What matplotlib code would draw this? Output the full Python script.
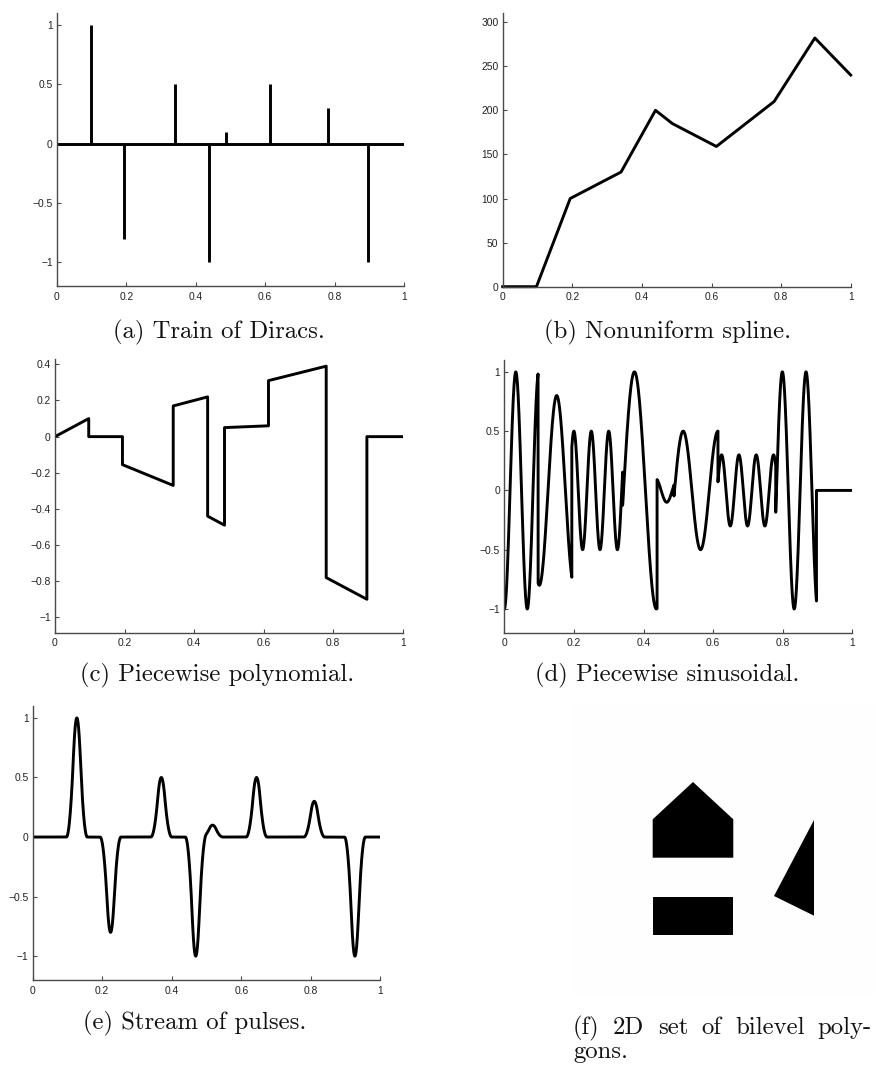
import numpy as np
import matplotlib
matplotlib.use("Agg")
import matplotlib.pyplot as plt
from matplotlib.patches import Polygon
from matplotlib.ticker import FuncFormatter

# Innovation locations shared by all 1D signals
knots = [0.097, 0.194, 0.34, 0.439, 0.4875, 0.614, 0.78, 0.897]
dirac_amps = [1.0, -0.8, 0.5, -1.0, 0.1, 0.5, 0.3, -1.0]

# Nonuniform linear spline (values at knots, plus the end points)
spline_x = [0.0, 0.097, 0.194, 0.34, 0.439, 0.4875, 0.614, 0.78, 0.897, 1.0]
spline_y = [0, 0, 100, 130, 200, 185, 159, 210, 282, 240]

# Piecewise polynomial: start / end value of each linear piece
piece_breaks = [0.0, 0.097, 0.194, 0.34, 0.439, 0.4875, 0.614, 0.78, 0.897, 1.0]
poly_start = [0.0, 0.0, -0.155, 0.17, -0.44, 0.05, 0.31, -0.78, 0.0]
poly_end = [0.1, 0.0, -0.27, 0.22, -0.49, 0.06, 0.39, -0.90, 0.0]

# Piecewise sinusoid: amplitude, period and peak location of each piece
sin_amp = [-1.0, -0.8, 0.5, 1.0, -0.1, 0.5, 0.3, 1.0, 0.0]
sin_period = [0.066, 0.1, 0.05, 0.126, 0.064, 0.1, 0.0497, 0.068, 1.0]
sin_peak = [0.0, 0.1006, 0.2, 0.374, 0.4667, 0.514, 0.6245, 0.799, 0.0]

# Stream of pulses: each pulse starts at a knot and spans this width
pulse_width = 0.06

# Bilevel polygons (image coordinates in [0, 1])
house = [(0.2663, 0.4702), (0.5323, 0.4702), (0.5323, 0.6017),
         (0.3993, 0.7295), (0.2663, 0.6017)]
block = [(0.2663, 0.2055), (0.5323, 0.2055), (0.5323, 0.3366),
         (0.2663, 0.3366)]
wedge = [(0.7987, 0.5993), (0.7987, 0.2716), (0.6667, 0.3390)]

captions = ["(a) Train of Diracs.", "(b) Nonuniform spline.",
            "(c) Piecewise polynomial.", "(d) Piecewise sinusoidal.",
            "(e) Stream of pulses."]
caption_f_words = ["(f)", "2D", "set", "of", "bilevel", "poly-"]
caption_f_tail = "gons."

W, H = 876, 1066
fig = plt.figure(figsize=(W / 100, H / 100), dpi=100)
fig.patch.set_facecolor("white")

TICK_FONT = ["Liberation Sans", "DejaVu Sans"]
CAP_FONT = ["cmr10", "DejaVu Serif"]
CAP_SIZE = 17.8
AX_COL = "#4a4a4a"
LINE_W = 2.1


def px_axes(x0, y0, x1, y1):
    return fig.add_axes([x0 / W, 1 - y1 / H, (x1 - x0) / W, (y1 - y0) / H])


def fmt(v, _pos):
    s = "%g" % round(v, 6)
    return s.replace("-", "\u2212")


def style(ax, ylim, yticks):
    for side in ("top", "right"):
        ax.spines[side].set_visible(False)
    for side in ("left", "bottom"):
        ax.spines[side].set_color(AX_COL)
        ax.spines[side].set_linewidth(1.0)
    ax.set_xlim(0, 1)
    ax.set_ylim(*ylim)
    ax.set_xticks(np.linspace(0, 1, 6))
    ax.set_yticks(yticks)
    ax.xaxis.set_major_formatter(FuncFormatter(fmt))
    ax.yaxis.set_major_formatter(FuncFormatter(fmt))
    ax.tick_params(direction="in", length=3, width=0.8, color=AX_COL,
                   labelsize=7.4, labelcolor="#222222")
    ax.tick_params(axis="x", pad=4.0)
    ax.tick_params(axis="y", pad=3)
    for lab in ax.get_xticklabels() + ax.get_yticklabels():
        lab.set_family(TICK_FONT)
    ax.patch.set_alpha(0)


def caption(text, cx, baseline):
    fig.text(cx / W, 1 - baseline / H, text, ha="center", va="baseline",
             family=CAP_FONT, fontsize=CAP_SIZE, color="#111111")


# (a) Train of Diracs
ax = px_axes(57, 13, 404, 286)
ax.plot([0, 1], [0, 0], color="black", lw=LINE_W, solid_capstyle="butt")
ax.vlines(knots, 0, dirac_amps, color="black", lw=LINE_W)
style(ax, (-1.2, 1.1), [-1, -0.5, 0, 0.5, 1])
caption(captions[0], 219, 338)

# (b) Nonuniform spline
ax = px_axes(502.7, 13.3, 850.7, 286.7)
ax.plot(spline_x, spline_y, color="black", lw=LINE_W, clip_on=False)
style(ax, (0, 310), [0, 50, 100, 150, 200, 250, 300])
caption(captions[1], 668, 338)

# (c) Piecewise polynomial
ax = px_axes(55, 359.3, 402.7, 632.7)
px, py = [], []
for i in range(len(poly_start)):
    px += [piece_breaks[i], piece_breaks[i + 1]]
    py += [poly_start[i], poly_end[i]]
ax.plot(px, py, color="black", lw=LINE_W)
style(ax, (-1.085, 0.428), [-1, -0.8, -0.6, -0.4, -0.2, 0, 0.2, 0.4])
caption(captions[2], 217.5, 681)

# (d) Piecewise sinusoidal
ax = px_axes(504.3, 360, 852.3, 632.7)
sx, sy = [], []
for i in range(len(sin_amp)):
    xs = np.linspace(piece_breaks[i], piece_breaks[i + 1], 400)
    ys = sin_amp[i] * np.cos(2 * np.pi * (xs - sin_peak[i]) / sin_period[i])
    sx.append(xs)
    sy.append(ys)
ax.plot(np.concatenate(sx), np.concatenate(sy), color="black", lw=LINE_W)
style(ax, (-1.2, 1.1), [-1, -0.5, 0, 0.5, 1])
caption(captions[3], 666.7, 681)

# (e) Stream of pulses (quadratic B-spline pulses)
ax = px_axes(32.7, 706, 380.3, 980)
xe = np.linspace(0, 1, 4000)
ye = np.zeros_like(xe)
unit = pulse_width / 3.0
for k, a in zip(knots, dirac_amps):
    t = np.abs((xe - k - pulse_width / 2) / unit)
    b = np.where(t < 0.5, 0.75 - t ** 2,
                 np.where(t < 1.5, 0.5 * (1.5 - t) ** 2, 0.0)) / 0.75
    ye += a * b
ax.plot(xe, ye, color="black", lw=LINE_W)
style(ax, (-1.2, 1.1), [-1, -0.5, 0, 0.5, 1])
caption(captions[4], 194.2, 1029)

# (f) 2D set of bilevel polygons
ax = px_axes(572, 703, 875, 995)
ax.set_xlim(0, 1)
ax.set_ylim(0, 1)
ax.set_facecolor("#fefefe")
for shape in (house, block, wedge):
    ax.add_patch(Polygon(shape, closed=True, facecolor="black",
                         edgecolor="none"))
ax.set_xticks([])
ax.set_yticks([])
for s in ax.spines.values():
    s.set_visible(False)

# justified first caption line between these pixel bounds
line_left, line_right = 573, 872
renderer = fig.canvas.get_renderer()
word_texts = []
for w in caption_f_words:
    word_texts.append(fig.text(0, 1 - 1034 / H, w, ha="left", va="baseline",
                               family=CAP_FONT, fontsize=CAP_SIZE,
                               color="#111111"))
widths = [t.get_window_extent(renderer).width for t in word_texts]
gap = (line_right - line_left - sum(widths)) / (len(widths) - 1)
x = line_left
for t, wd in zip(word_texts, widths):
    t.set_x(x / W)
    x += wd + gap
fig.text(line_left / W, 1 - 1058 / H, caption_f_tail, ha="left",
         va="baseline", family=CAP_FONT, fontsize=CAP_SIZE, color="#111111")

fig.savefig("out.png", dpi=100, facecolor="white")
